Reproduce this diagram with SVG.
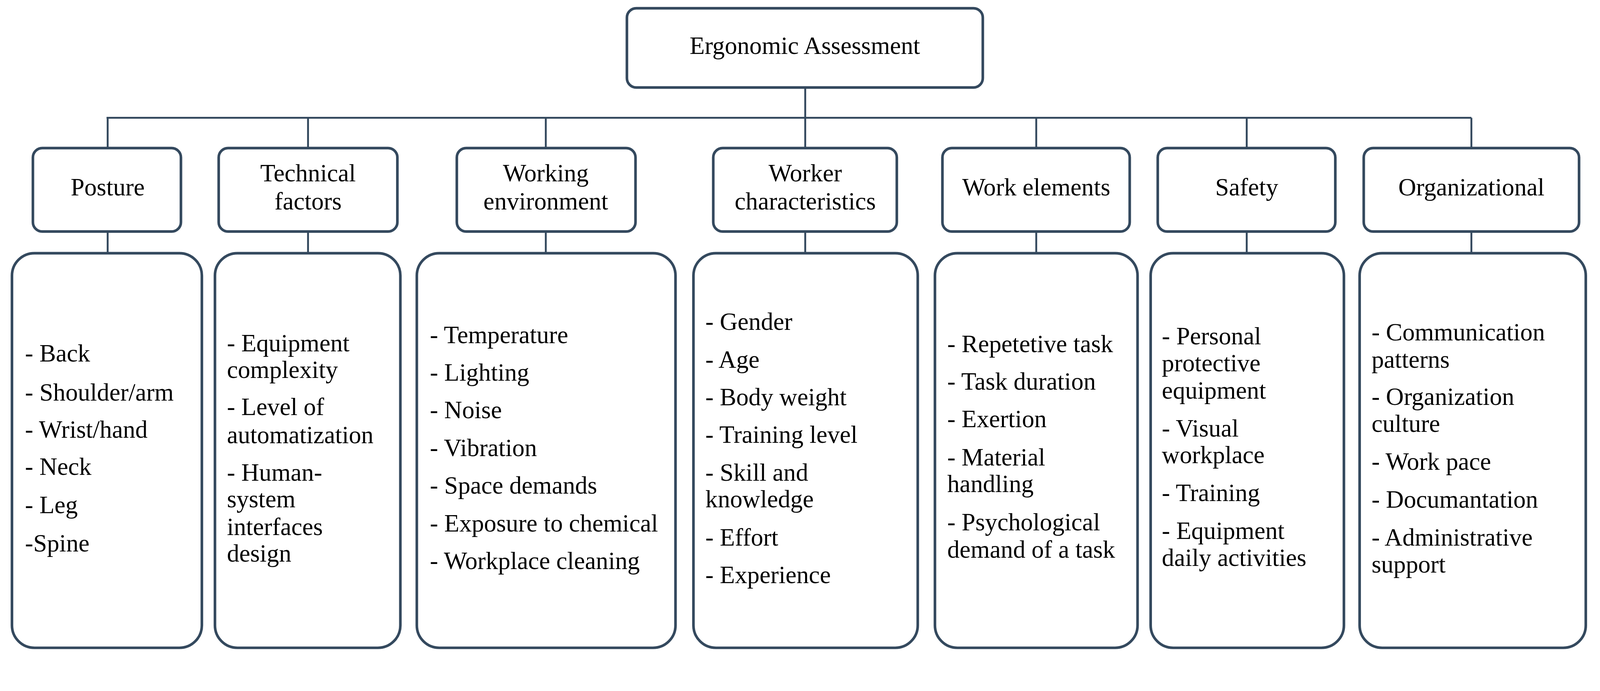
<svg xmlns="http://www.w3.org/2000/svg" width="4281" height="1768" viewBox="0 0 4281 1768">
<style>
.b{fill:#fff;stroke:#34495e;stroke-width:7}
.c{fill:none;stroke:#34495e;stroke-width:5}
text{font-family:"Liberation Serif",serif;font-size:66px;fill:#000}
.m{text-anchor:middle}
</style>
<rect width="4281" height="1768" fill="#fff"/>
<g transform="scale(0.957)">
<g id="connectors" class="c">
<path d="M2154 235V315M285 315H3936M288 315V396M824 315V396M1460 315V396M2154 315V396M2772 315V396M3335 315V396M3936 315V396"/>
<path d="M288 619V677M824 619V677M1460 619V677M2154 619V677M2772 619V677M3335 619V677M3936 619V677"/>
</g>
<g id="root"><rect class="b" x="1677" y="22" width="952" height="212" rx="25"/><text class="m" x="2153" y="144">Ergonomic Assessment</text></g>
<g id="posture"><rect class="b" x="88" y="396" width="396" height="223" rx="25"/><text class="m" x="288" y="522">Posture</text></g>
<g id="technical"><rect class="b" x="585" y="396" width="478" height="223" rx="25"/><text class="m" x="824" y="485">Technical</text><text class="m" x="824" y="560">factors</text></g>
<g id="environment"><rect class="b" x="1222" y="396" width="478" height="223" rx="25"/><text class="m" x="1460" y="485">Working</text><text class="m" x="1460" y="560">environment</text></g>
<g id="worker"><rect class="b" x="1908" y="396" width="491" height="223" rx="25"/><text class="m" x="2154" y="485">Worker</text><text class="m" x="2154" y="560">characteristics</text></g>
<g id="workel"><rect class="b" x="2521" y="396" width="501" height="223" rx="25"/><text class="m" x="2772" y="522">Work elements</text></g>
<g id="safety"><rect class="b" x="3097" y="396" width="475" height="223" rx="25"/><text class="m" x="3335" y="522">Safety</text></g>
<g id="org"><rect class="b" x="3648" y="396" width="576" height="223" rx="25"/><text class="m" x="3936" y="522">Organizational</text></g>

<g id="posture-list"><rect class="b" x="32" y="677" width="508" height="1055" rx="60"/>
<text x="67" y="967">- Back</text><text x="67" y="1071">- Shoulder/arm</text><text x="67" y="1170">- Wrist/hand</text><text x="67" y="1270">- Neck</text><text x="67" y="1372">- Leg</text><text x="67" y="1474">-Spine</text></g>
<g id="technical-list"><rect class="b" x="575" y="677" width="496" height="1055" rx="60"/>
<text x="607" y="939">- Equipment</text><text x="607" y="1010">complexity</text><text x="607" y="1110">- Level of</text><text x="607" y="1185">automatization</text><text x="607" y="1285">- Human-</text><text x="607" y="1356">system</text><text x="607" y="1431">interfaces</text><text x="607" y="1502">design</text></g>
<g id="environment-list"><rect class="b" x="1115" y="677" width="692" height="1055" rx="60"/>
<text x="1150" y="917">- Temperature</text><text x="1150" y="1018">- Lighting</text><text x="1150" y="1118">- Noise</text><text x="1150" y="1219">- Vibration</text><text x="1150" y="1320">- Space demands</text><text x="1150" y="1421">- Exposure to chemical</text><text x="1150" y="1521">- Workplace cleaning</text></g>
<g id="worker-list"><rect class="b" x="1855" y="677" width="600" height="1055" rx="60"/>
<text x="1887" y="882">- Gender</text><text x="1887" y="983">- Age</text><text x="1887" y="1084">- Body weight</text><text x="1887" y="1184">- Training level</text><text x="1887" y="1285">- Skill and</text><text x="1887" y="1356">knowledge</text><text x="1887" y="1459">- Effort</text><text x="1887" y="1559">- Experience</text></g>
<g id="workel-list"><rect class="b" x="2501" y="677" width="542" height="1055" rx="60"/>
<text x="2534" y="942">- Repetetive task</text><text x="2534" y="1042">- Task duration</text><text x="2534" y="1142">- Exertion</text><text x="2534" y="1244">- Material</text><text x="2534" y="1316">handling</text><text x="2534" y="1418">- Psychological</text><text x="2534" y="1491">demand of a task</text></g>
<g id="safety-list"><rect class="b" x="3078" y="677" width="517" height="1055" rx="60"/>
<text x="3108" y="921">- Personal</text><text x="3108" y="993">protective</text><text x="3108" y="1066">equipment</text><text x="3108" y="1167">- Visual</text><text x="3108" y="1238">workplace</text><text x="3108" y="1340">- Training</text><text x="3108" y="1441">- Equipment</text><text x="3108" y="1513">daily activities</text></g>
<g id="org-list"><rect class="b" x="3637" y="677" width="605" height="1055" rx="60"/>
<text x="3669" y="910">- Communication</text><text x="3669" y="983">patterns</text><text x="3669" y="1083">- Organization</text><text x="3669" y="1155">culture</text><text x="3669" y="1256">- Work pace</text><text x="3669" y="1357">- Documantation</text><text x="3669" y="1459">- Administrative</text><text x="3669" y="1531">support</text></g>
</g>
</svg>
